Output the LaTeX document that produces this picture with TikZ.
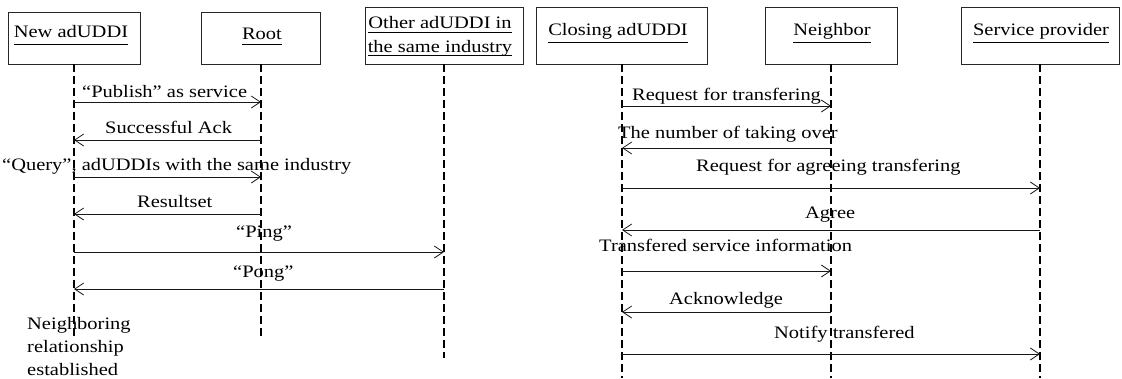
\documentclass[tikz,border=0pt]{standalone}
\usepackage{fontspec}
\setmainfont[FakeStretch=1.17]{Liberation Serif}
\usetikzlibrary{arrows.meta}
\newcommand\ulx[2]{\setbox0\hbox{#1}\rlap{\rule[-#2]{\wd0}{0.7pt}}\box0}
\begin{document}
\begin{tikzpicture}[x=1pt,y=-1pt,
  font=\fontsize{17.5}{21}\selectfont,
  box/.style={draw=black!85, line width=0.9pt, inner sep=0pt},
  life/.style={draw=black, line width=1.9pt, dash pattern=on 8pt off 4pt},
  msg/.style={draw=black!90, line width=0.8pt, -{Straight Barb[length=9pt,width=12pt,line width=0.8pt]}},
  lbl/.style={anchor=base west, inner sep=0pt},
  ttl/.style={anchor=base, inner sep=0pt}]
\useasboundingbox (0,0) rectangle (1122,378);
\fill[white] (0,0) rectangle (1122,378);
% boxes
\node[box, minimum width=132pt, minimum height=52pt] (new) at (74,38) {};
\node[box, minimum width=119pt, minimum height=52pt] (root) at (261,38) {};
\node[box, minimum width=158pt, minimum height=57pt] (other) at (444,35.5) {};
\node[box, minimum width=171pt, minimum height=57pt] (closing) at (622,35.5) {};
\node[box, minimum width=132pt, minimum height=57pt] (neighbor) at (831,35.5) {};
\node[box, minimum width=158pt, minimum height=57pt] (service) at (1040,35.5) {};
% titles
\node[ttl] (newL) at (71,37) {\ulx{New adUDDI}{8pt}};
\node[ttl] (rootL) at (262,39) {\ulx{Root}{6pt}};
\node[ttl] (otherL1) at (440,28) {\ulx{Other adUDDI in}{5pt}};
\node[ttl] (otherL2) at (440,52) {\ulx{the same industry}{3.5pt}};
\node[ttl] (closingL) at (618,35) {\ulx{Closing adUDDI}{8pt}};
\node[ttl] (neighborL) at (832,35) {\ulx{Neighbor}{8pt}};
\node[ttl] (serviceL) at (1041,35) {\ulx{Service provider}{8pt}};
% lifelines
\draw[life] (new.south) -- (new.south |- 0,337);
\draw[life] (root.south) -- (root.south |- 0,337);
\draw[life] (other.south) -- (other.south |- 0,358);
\draw[life] (closing.south) -- (closing.south |- 0,378);
\draw[life] (neighbor.south) -- (neighbor.south |- 0,378);
\draw[life] (service.south) -- (service.south |- 0,378);
% left messages
\draw[msg] (new.south |- 0,102) -- (root.south |- 0,102);
\node[lbl] (m1) at (82,97) {``Publish'' as service};
\draw[msg] (root.south |- 0,140) -- (new.south |- 0,140);
\node[lbl] (m2) at (105,133) {Successful Ack};
\draw[msg] (new.south |- 0,177) -- (root.south |- 0,177);
\node[lbl] (m3) at (2,170) {``Query'', adUDDIs with the same industry};
\draw[msg] (root.south |- 0,214) -- (new.south |- 0,214);
\node[lbl] (m4) at (137,207) {Resultset};
\draw[msg] (new.south |- 0,252) -- (other.south |- 0,252);
\node[lbl] (m5) at (236,237) {``Ping''};
\draw[msg] (other.south |- 0,289) -- (new.south |- 0,289);
\node[lbl] (m6) at (233,277) {``Pong''};
\node[lbl] (n1) at (27,329) {Neighboring};
\node[lbl] (n2) at (27,352) {relationship};
\node[lbl] (n3) at (27,375) {established};
% right messages
\draw[msg] (closing.south |- 0,106) -- (neighbor.south |- 0,106);
\node[lbl] (r1) at (632,100) {Request for transfering};
\draw[msg] (neighbor.south |- 0,148) -- (closing.south |- 0,148);
\node[lbl] (r2) at (618,138) {The number of taking over};
\draw[msg] (closing.south |- 0,188) -- (service.south |- 0,188);
\node[lbl] (r3) at (696,171) {Request for agreeing transfering};
\draw[msg] (service.south |- 0,230) -- (closing.south |- 0,230);
\node[lbl] (r4) at (805,218) {Agree};
\draw[msg] (closing.south |- 0,271) -- (neighbor.south |- 0,271);
\node[lbl] (r5) at (599,251) {Transfered service information};
\draw[msg] (neighbor.south |- 0,312) -- (closing.south |- 0,312);
\node[lbl] (r6) at (669,304) {Acknowledge};
\draw[msg] (closing.south |- 0,354) -- (service.south |- 0,354);
\node[lbl] (r7) at (774,338) {Notify transfered};
\end{tikzpicture}
\end{document}
